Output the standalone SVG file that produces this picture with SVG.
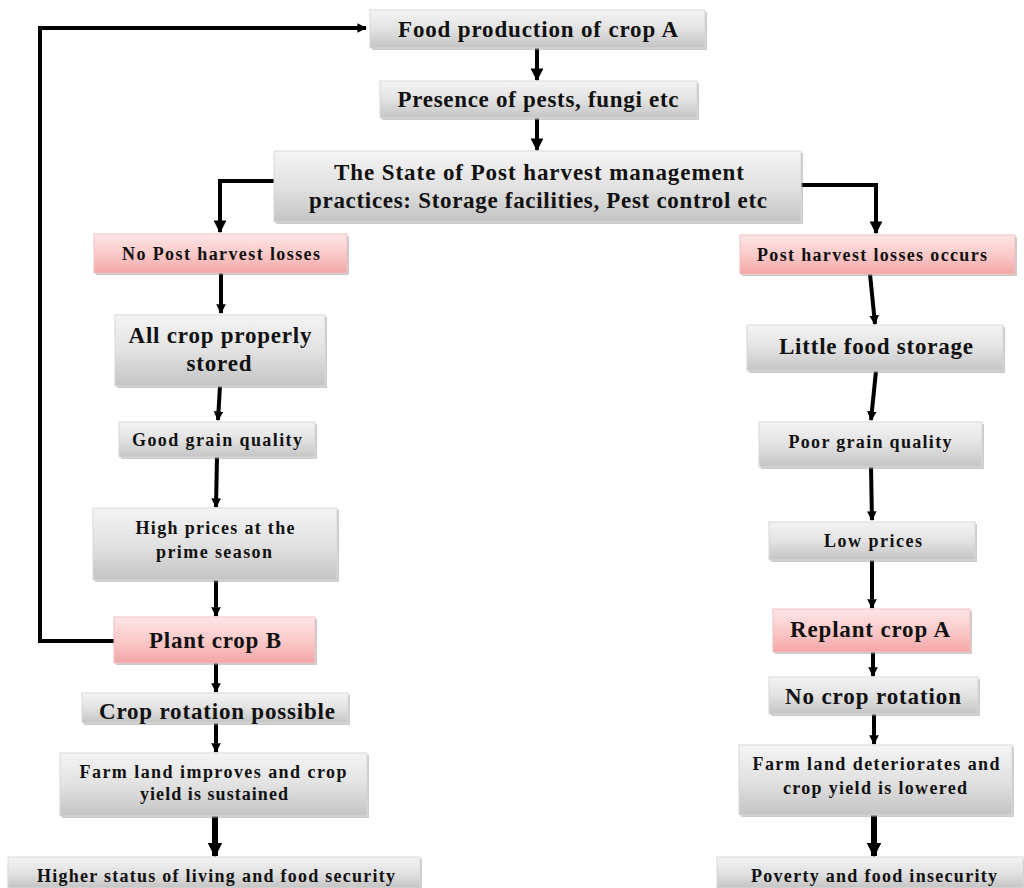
<svg xmlns="http://www.w3.org/2000/svg" width="1024" height="888" viewBox="0 0 1024 888">
<defs>
<linearGradient id="gGray" x1="0" y1="0" x2="0" y2="1">
<stop offset="0" stop-color="#f4f4f4"/>
<stop offset="0.5" stop-color="#e2e2e2"/>
<stop offset="1" stop-color="#c4c4c4"/>
</linearGradient>
<linearGradient id="gPink" x1="0" y1="0" x2="0" y2="1">
<stop offset="0" stop-color="#fde6e6"/>
<stop offset="0.5" stop-color="#fbcaca"/>
<stop offset="1" stop-color="#f3a6a6"/>
</linearGradient>
<marker id="ah" viewBox="0 0 10 10" refX="9" refY="5" markerWidth="3.2" markerHeight="3.2" orient="auto" markerUnits="strokeWidth">
<path d="M0,0 L10,5 L0,10 z" fill="#000"/>
</marker>
<marker id="ahs" viewBox="0 0 10 10" refX="9" refY="5" markerWidth="2.4" markerHeight="2.4" orient="auto" markerUnits="strokeWidth">
<path d="M0,0 L10,5 L0,10 z" fill="#000"/>
</marker>
</defs>
<style>
.box{fill:url(#gGray);stroke:#d8d8d8;stroke-width:1}
.pink{fill:url(#gPink);stroke:#f0c0c0;stroke-width:1}
.sh{fill:#9a9a9a;opacity:0.5}
text{font-family:"Liberation Serif","Times New Roman",serif;font-weight:bold;fill:#111;text-anchor:middle}
.t20{font-size:23px}
.t16{font-size:18px}
.c{fill:none;stroke:#000;stroke-width:4}
.c6{fill:none;stroke:#000;stroke-width:6}
</style>
<rect width="1024" height="888" fill="#fff"/>

<g id="connectors">
<path class="c" d="M114,641 H40 V28 H366" marker-end="url(#ahs)"/>
<path class="c" d="M537,48 V80" marker-end="url(#ah)"/>
<path class="c" d="M537,118 V150" marker-end="url(#ah)"/>
<path class="c" d="M274,181 H220 V232" marker-end="url(#ah)"/>
<path class="c" d="M801,185 H876 V233" marker-end="url(#ah)"/>
<path class="c" d="M221,273 V313" marker-end="url(#ahs)"/>
<path class="c" d="M220,386 L218,420" marker-end="url(#ahs)"/>
<path class="c" d="M217,457 L216,507" marker-end="url(#ahs)"/>
<path class="c" d="M216,580 V616" marker-end="url(#ahs)"/>
<path class="c" d="M216,663 V692" marker-end="url(#ahs)"/>
<path class="c" d="M216,723 V752" marker-end="url(#ahs)"/>
<path class="c6" d="M215,816 V856" marker-end="url(#ahs)"/>
<path class="c" d="M870,274 L875,324" marker-end="url(#ahs)"/>
<path class="c" d="M876,371 L871,420" marker-end="url(#ahs)"/>
<path class="c" d="M871,467 L872,520" marker-end="url(#ahs)"/>
<path class="c" d="M872,560 V608" marker-end="url(#ahs)"/>
<path class="c" d="M873,652 V676" marker-end="url(#ahs)"/>
<path class="c" d="M874,714 V744" marker-end="url(#ahs)"/>
<path class="c6" d="M874,815 V856" marker-end="url(#ahs)"/>
</g>

<g id="n1"><rect class="sh" x="372" y="12" width="335" height="38"/><rect class="box" x="370" y="10" width="335" height="38"/><text class="t20" x="538" y="37" textLength="280" lengthAdjust="spacing">Food production of crop A</text></g>
<g id="n2"><rect class="sh" x="382" y="83" width="317" height="37"/><rect class="box" x="380" y="81" width="317" height="37"/><text class="t20" x="538" y="107" textLength="281" lengthAdjust="spacing">Presence of pests, fungi etc</text></g>
<g id="n3"><rect class="sh" x="276" y="153" width="527" height="71"/><rect class="box" x="274" y="151" width="527" height="71"/><text class="t20" x="539" y="180" textLength="410" lengthAdjust="spacing">The State of Post harvest management</text><text class="t20" x="538" y="208" textLength="458" lengthAdjust="spacing">practices: Storage facilities, Pest  control etc</text></g>
<g id="n4"><rect class="sh" x="96" y="236" width="253" height="39"/><rect class="pink" x="94" y="234" width="253" height="39"/><text class="t16" x="221" y="260" textLength="198" lengthAdjust="spacing">No Post harvest losses</text></g>
<g id="n5"><rect class="sh" x="742" y="237" width="275" height="39"/><rect class="pink" x="740" y="235" width="275" height="39"/><text class="t16" x="872" y="261" textLength="230" lengthAdjust="spacing">Post harvest losses occurs</text></g>
<g id="n6"><rect class="sh" x="117" y="317" width="210" height="71"/><rect class="box" x="115" y="315" width="210" height="71"/><text class="t20" x="220" y="343" textLength="183" lengthAdjust="spacing">All crop properly</text><text class="t20" x="219" y="371" textLength="65" lengthAdjust="spacing">stored</text></g>
<g id="n7"><rect class="sh" x="121" y="424" width="196" height="35"/><rect class="box" x="119" y="422" width="196" height="35"/><text class="t16" x="217" y="446" textLength="170" lengthAdjust="spacing">Good grain quality</text></g>
<g id="n8"><rect class="sh" x="95" y="510" width="244" height="72"/><rect class="box" x="93" y="508" width="244" height="72"/><text class="t16" x="215" y="534" textLength="159" lengthAdjust="spacing">High prices at the</text><text class="t16" x="214" y="558" textLength="116" lengthAdjust="spacing">prime season</text></g>
<g id="n9"><rect class="sh" x="116" y="619" width="201" height="46"/><rect class="pink" x="114" y="617" width="201" height="46"/><text class="t20" x="215" y="648" textLength="132" lengthAdjust="spacing">Plant crop B</text></g>
<g id="n10"><rect class="sh" x="84" y="695" width="266" height="30"/><rect class="box" x="82" y="693" width="266" height="30"/><text class="t20" x="217" y="719" textLength="236" lengthAdjust="spacing">Crop rotation possible</text></g>
<g id="n11"><rect class="sh" x="62" y="755" width="307" height="63"/><rect class="box" x="60" y="753" width="307" height="63"/><text class="t16" x="213" y="778" textLength="267" lengthAdjust="spacing">Farm land improves and crop</text><text class="t16" x="214" y="800" textLength="148" lengthAdjust="spacing">yield is sustained</text></g>
<g id="n12"><rect class="sh" x="10" y="859" width="412" height="31"/><rect class="box" x="8" y="857" width="412" height="31"/><text class="t16" x="216" y="882" textLength="358" lengthAdjust="spacing">Higher status of living and food security</text></g>
<g id="n13"><rect class="sh" x="749" y="327" width="256" height="46"/><rect class="box" x="747" y="325" width="256" height="46"/><text class="t20" x="876" y="354" textLength="194" lengthAdjust="spacing">Little food storage</text></g>
<g id="n14"><rect class="sh" x="761" y="424" width="223" height="45"/><rect class="box" x="759" y="422" width="223" height="45"/><text class="t16" x="870" y="448" textLength="163" lengthAdjust="spacing">Poor grain quality</text></g>
<g id="n15"><rect class="sh" x="771" y="524" width="206" height="38"/><rect class="box" x="769" y="522" width="206" height="38"/><text class="t16" x="873" y="547" textLength="98" lengthAdjust="spacing">Low prices</text></g>
<g id="n16"><rect class="sh" x="775" y="611" width="197" height="43"/><rect class="pink" x="773" y="609" width="197" height="43"/><text class="t20" x="870" y="637" textLength="160" lengthAdjust="spacing">Replant crop A</text></g>
<g id="n17"><rect class="sh" x="771" y="679" width="209" height="37"/><rect class="box" x="769" y="677" width="209" height="37"/><text class="t20" x="873" y="704" textLength="176" lengthAdjust="spacing">No crop rotation</text></g>
<g id="n18"><rect class="sh" x="741" y="747" width="273" height="70"/><rect class="box" x="739" y="745" width="273" height="70"/><text class="t16" x="876" y="770" textLength="247" lengthAdjust="spacing">Farm land deteriorates and</text><text class="t16" x="875" y="794" textLength="184" lengthAdjust="spacing">crop yield is lowered</text></g>
<g id="n19"><rect class="sh" x="719" y="859" width="306" height="31"/><rect class="box" x="717" y="857" width="306" height="31"/><text class="t16" x="874" y="882" textLength="246" lengthAdjust="spacing">Poverty and food insecurity</text></g>
</svg>
